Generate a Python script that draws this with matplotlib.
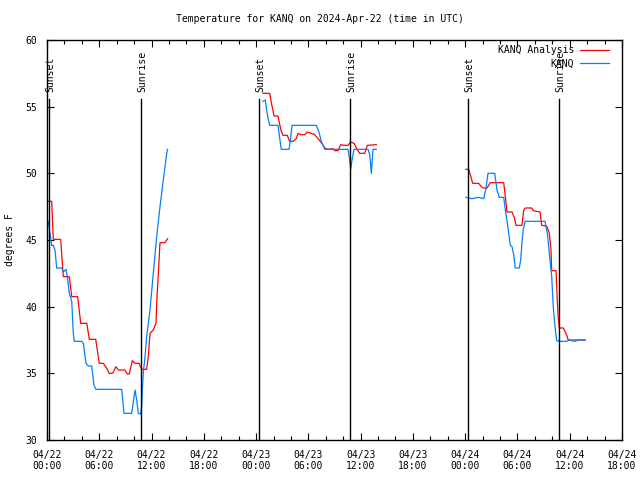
import matplotlib
matplotlib.use("Agg")
import matplotlib.pyplot as plt
import matplotlib.dates as mdates
from matplotlib.ticker import FixedLocator
import datetime as dt

# ---- data (hours since 2024-04-22 00:00 UTC, temperature in F) ----
analysis_t1 = [0.15, 0.54, 0.72, 1.57, 1.87, 2.56, 2.84, 3.52, 3.87, 4.56, 4.86, 5.59, 6.00, 6.46,
               6.85, 7.12, 7.54, 7.92, 8.18, 8.95, 9.22, 9.45, 9.79, 10.10, 10.56, 10.87, 11.44,
               11.63, 11.82, 12.20, 12.51, 12.59, 12.78, 12.97, 13.54, 13.85]
analysis_v1 = [47.9, 47.9, 45.05, 45.05, 42.25, 42.25, 40.75, 40.75, 38.75, 38.75, 37.55, 37.55,
               35.75, 35.75, 35.4, 35.0, 35.0, 35.5, 35.25, 35.25, 34.95, 34.95, 35.95, 35.75,
               35.75, 35.3, 35.3, 36.25, 38.0, 38.25, 38.75, 40.25, 42.5, 44.8, 44.8, 45.1]
analysis_t2 = [24.79, 25.56, 25.75, 26.06, 26.52, 26.71, 26.89, 27.09, 27.58, 27.86, 28.24, 28.62,
               28.81, 29.12, 29.58, 29.88, 30.34, 30.73, 31.11, 31.49, 31.88, 32.25, 32.83, 33.02,
               33.40, 33.71, 34.09, 34.55, 34.86, 35.24, 35.50, 35.89, 36.47, 36.77, 37.80]
analysis_v2 = [56.0, 56.0, 55.3, 54.3, 54.3, 53.65, 53.15, 52.85, 52.85, 52.4, 52.4, 52.6, 53.0,
               52.9, 52.9, 53.1, 53.0, 52.9, 52.6, 52.3, 51.9, 51.8, 51.85, 51.7, 51.7, 52.15,
               52.1, 52.1, 52.35, 52.25, 51.9, 51.5, 51.5, 52.1, 52.15]
analysis_t3 = [48.09, 48.40, 48.59, 48.86, 49.55, 49.85, 50.13, 50.51, 50.88, 52.42, 52.61, 52.80,
               53.37, 53.68, 53.83, 54.52, 54.72, 54.90, 55.64, 55.82, 56.59, 56.78, 57.36, 57.66,
               57.85, 57.93, 58.43, 58.57, 58.69, 58.80, 59.26, 59.57, 59.84, 61.75]
analysis_v3 = [50.3, 50.3, 49.9, 49.25, 49.25, 49.0, 48.9, 48.9, 49.3, 49.3, 48.25, 47.1, 47.1,
               46.6, 46.1, 46.1, 47.25, 47.4, 47.4, 47.2, 47.1, 46.1, 46.05, 45.5, 44.25, 42.7,
               42.7, 40.5, 39.1, 38.4, 38.4, 38.0, 37.5, 37.5]

obs_t1 = [0.15, 0.34, 0.54, 0.72, 0.92, 1.11, 1.69, 1.87, 2.18, 2.33, 2.56, 2.84, 3.02, 3.13,
          3.98, 4.17, 4.48, 4.74, 5.13, 5.39, 5.62, 8.57, 8.84, 9.72, 10.10, 10.30, 10.48, 10.76,
          10.87, 10.94, 11.05, 11.25, 11.44, 11.82, 12.20, 12.59, 12.97, 13.35, 13.74, 13.85]
obs_v1 = [46.4, 45.5, 44.6, 44.6, 44.25, 42.9, 42.9, 42.6, 42.8, 42.25, 41.0, 40.4, 38.0, 37.4,
          37.4, 37.25, 35.75, 35.55, 35.55, 34.1, 33.8, 33.8, 32.0, 32.0, 33.75, 33.0, 32.0,
          31.95, 32.6, 33.75, 35.0, 36.25, 37.75, 39.75, 42.5, 45.25, 47.5, 49.5, 51.5, 51.8]
obs_t2 = [24.79, 25.06, 25.17, 25.37, 25.56, 26.52, 26.71, 26.89, 27.78, 27.97, 28.12, 30.91,
          31.19, 31.49, 31.88, 34.55, 34.75, 34.86, 35.01, 35.24, 36.85, 37.04, 37.23, 37.42,
          37.80]
obs_v2 = [55.4, 55.5, 54.9, 54.15, 53.6, 53.6, 52.65, 51.8, 51.8, 52.65, 53.6, 53.6, 53.15, 52.4,
          51.8, 51.8, 51.0, 50.3, 51.0, 51.8, 51.8, 51.4, 50.0, 51.8, 51.8]
obs_t3 = [48.09, 48.78, 49.55, 50.13, 50.39, 50.62, 51.39, 51.65, 51.91, 52.42, 52.61, 52.92,
          53.18, 53.37, 53.57, 53.75, 54.21, 54.37, 54.51, 54.66, 54.89, 56.78, 57.16, 57.43,
          57.66, 57.93, 58.11, 58.31, 58.50, 58.88, 59.65, 59.84, 60.61, 60.99, 61.75]
obs_v3 = [48.2, 48.1, 48.2, 48.1, 48.9, 50.0, 50.0, 48.75, 48.2, 48.2, 47.25, 45.9, 44.6, 44.5,
          43.9, 42.9, 42.9, 43.5, 44.75, 45.8, 46.4, 46.4, 46.4, 45.5, 44.0, 42.25, 40.0, 38.5,
          37.45, 37.4, 37.4, 37.5, 37.4, 37.5, 37.5]

sun_hours = [0.23, 10.79, 24.33, 34.78, 48.32, 58.77]
sun_labels = ["Sunset", "Sunrise", "Sunset", "Sunrise", "Sunset", "Sunrise"]

title = "Temperature for KANQ on 2024-Apr-22 (time in UTC)"
ylabel = "degrees F"
series_names = ["KANQ Analysis", "KANQ"]
y_ticks = [30, 35, 40, 45, 50, 55, 60]

# ---- plot ----
plt.rcParams['font.family'] = ['DejaVu Sans Mono']
FS = 7
base = dt.datetime(2024, 4, 22, 0, 0)


def to_dt(hours):
    return [base + dt.timedelta(hours=h) for h in hours]


fig = plt.figure(figsize=(6.4, 4.8), dpi=100)
ax = fig.add_axes([47 / 640, 40 / 480, 575 / 640, 400 / 480])

red = '#ff0000'
blue = '#0080ff'
lw = 0.9

ax.plot(to_dt(analysis_t1), analysis_v1, color=red, lw=lw, label=series_names[0])
ax.plot(to_dt(analysis_t2), analysis_v2, color=red, lw=lw)
ax.plot(to_dt(analysis_t3), analysis_v3, color=red, lw=lw)
ax.plot(to_dt(obs_t1), obs_v1, color=blue, lw=lw, label=series_names[1])
ax.plot(to_dt(obs_t2), obs_v2, color=blue, lw=lw)
ax.plot(to_dt(obs_t3), obs_v3, color=blue, lw=lw)

for h, lab in zip(sun_hours, sun_labels):
    t = base + dt.timedelta(hours=h)
    ax.plot([t, t], [30, 55.6], color='black', lw=1.0)
    ax.text(base + dt.timedelta(hours=h + 0.2), 56.1, lab, rotation=90, ha='center',
            va='bottom', fontsize=FS)

ax.set_xlim(base, base + dt.timedelta(hours=66))
ax.set_ylim(30, 60)
ax.xaxis.set_major_locator(mdates.HourLocator(byhour=[0, 6, 12, 18]))
ax.xaxis.set_minor_locator(mdates.HourLocator(interval=2))
ax.xaxis.set_major_formatter(mdates.DateFormatter('%m/%d\n%H:%M'))
ax.yaxis.set_major_locator(FixedLocator(y_ticks))

ax.tick_params(which='both', direction='in', top=True, right=True, labelsize=FS, width=0.8)
ax.tick_params(which='major', length=5)
ax.tick_params(which='minor', length=3)
ax.tick_params(axis='x', pad=7)
ax.tick_params(axis='y', pad=7)
for s in ax.spines.values():
    s.set_linewidth(1.0)

ax.set_ylabel(ylabel, fontsize=FS)
ax.yaxis.set_label_coords((15 - 47) / 575, 0.5)
fig.text(0.5, 1 - 19 / 480, title, ha='center', va='center', fontsize=FS)

ax.legend(loc='upper right', bbox_to_anchor=((613 - 47) / 575, 0.997), borderaxespad=0,
          frameon=False, markerfirst=False, fontsize=FS, handlelength=3.0,
          labelspacing=0.38, handletextpad=0.6)

fig.savefig('out.png', dpi=100)
